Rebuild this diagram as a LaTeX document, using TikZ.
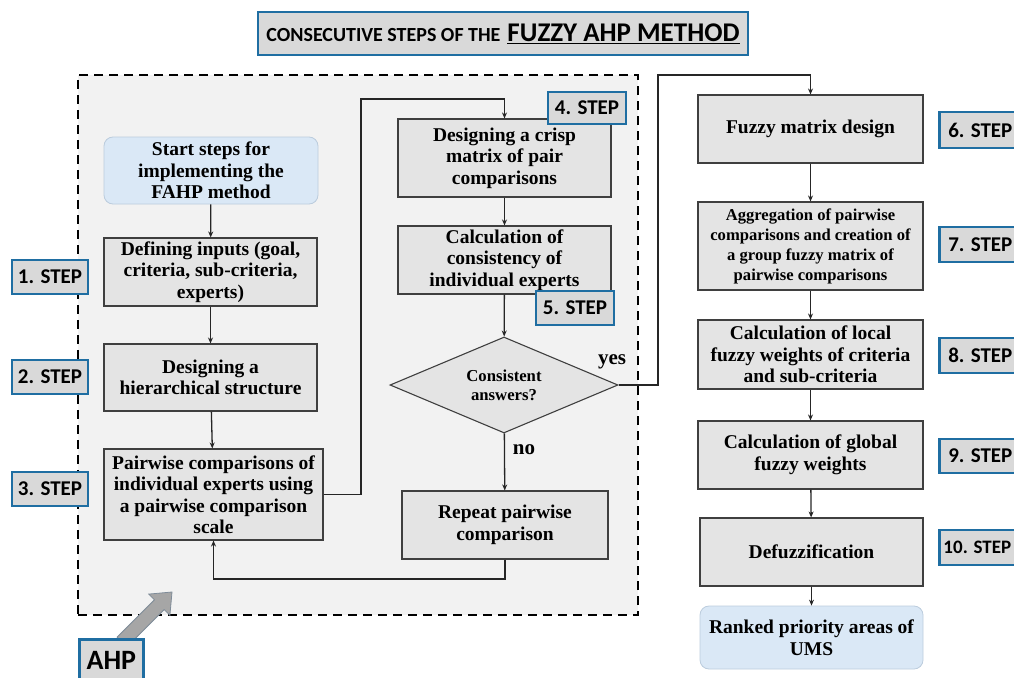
\documentclass[tikz,border=0pt]{standalone}
\usepackage{fontspec}
\setmainfont{Liberation Serif}
\newfontfamily\calfont{Carlito}
\usetikzlibrary{arrows.meta,shapes.geometric}
\definecolor{boxfill}{HTML}{E4E4E4}
\definecolor{boxline}{HTML}{3F3F3F}
\definecolor{stepblue}{HTML}{1F6EA2}
\definecolor{stepfill}{HTML}{D9D9D9}
\definecolor{startfill}{HTML}{DAE8F6}
\definecolor{startline}{HTML}{BBCCDD}
\definecolor{bgfill}{HTML}{F2F2F2}
\definecolor{arrowfill}{HTML}{A6A6A6}
\definecolor{arrowline}{HTML}{7F8C99}
\begin{document}
\begin{tikzpicture}[x=1pt,y=-1pt,
  box/.style={draw=boxline, fill=boxfill, line width=1.1pt, align=center, inner sep=0pt,
    font=\bfseries\fontsize{19.5}{21.5}\selectfont},
  startbox/.style={box, draw=startline, fill=startfill, rounded corners=9pt, line width=0.8pt},
  stepbox/.style={draw=stepblue, fill=stepfill, line width=2.6pt, inner sep=0pt,
    minimum width=76, minimum height=34, font=\calfont\bfseries\fontsize{21}{22}\selectfont},
  arr/.style={line width=1.3pt, draw=black!85, -{Stealth[length=6pt,width=5pt]}},
  lbl/.style={font=\bfseries\fontsize{21}{22}\selectfont, inner sep=0pt}
]
\useasboundingbox (0,0) rectangle (1014,677);

% title
\node[draw=stepblue, fill=stepfill, line width=2.6pt, minimum width=490, minimum height=43, inner sep=0pt]
  (title) at (503,33.5) {\calfont\bfseries{\fontsize{20}{22}\selectfont CONSECUTIVE STEPS OF THE}\hspace{7pt}{\fontsize{27}{28}\selectfont\underline{FUZZY AHP METHOD}}};

% dashed AHP region
\node[draw=black, fill=bgfill, dashed, dash pattern=on 9pt off 6pt, line width=2.2pt,
  minimum width=560, minimum height=540, inner sep=0pt] (ahpregion) at (358,345) {};

% left column
\node[startbox, minimum width=214, minimum height=67] (start) at (211,170.5)
  {Start steps for\\implementing the\\FAHP method};
\node[box, minimum width=213, minimum height=68] (n1) at (210.5,272)
  {Defining inputs (goal,\\criteria, sub-criteria,\\experts)};
\node[box, minimum width=213, minimum height=67] (n2) at (210.5,377.5)
  {Designing a\\hierarchical structure};
\node[box, minimum width=219, minimum height=91] (n3) at (213.5,494.5)
  {Pairwise comparisons of\\individual experts using\\a pairwise comparison\\scale};

% middle column
\node[box, minimum width=213, minimum height=78] (n4) at (504.5,158)
  {Designing a crisp\\matrix of pair\\comparisons};
\node[box, minimum width=213, minimum height=68] (n5) at (504.5,260)
  {Calculation of\\consistency of\\individual experts};
\node[box, shape=diamond, aspect=2.4, minimum width=228, minimum height=96,
  font=\bfseries\fontsize{16.7}{19}\selectfont] (dia) at (504,385)
  {Consistent\\answers?};
\node[box, minimum width=206, minimum height=68] (rep) at (505,525)
  {Repeat pairwise\\comparison};

% right column
\node[box, minimum width=225, minimum height=68] (m1) at (810.5,129) {Fuzzy matrix design};
\node[box, minimum width=225, minimum height=88, font=\bfseries\fontsize{16.6}{20}\selectfont] (m2) at (810.5,246)
  {Aggregation of pairwise\\comparisons and creation of\\a group fuzzy matrix of\\pairwise comparisons};
\node[box, minimum width=225, minimum height=69] (m3) at (810.5,354.5)
  {Calculation of local\\fuzzy weights of criteria\\and sub-criteria};
\node[box, minimum width=225, minimum height=68] (m4) at (810.5,455)
  {Calculation of global\\fuzzy weights};
\node[box, minimum width=223, minimum height=68] (m5) at (811.5,552) {Defuzzification};
\node[startbox, minimum width=223, minimum height=63] (m6) at (811.5,637.5)
  {Ranked priority areas of\\UMS};

% step labels
\node[stepbox] (s1) at (50,277) {1. STEP};
\node[stepbox] (s2) at (50,377) {2. STEP};
\node[stepbox] (s3) at (50,489) {3. STEP};
\node[stepbox, minimum width=78, minimum height=32] (s4) at (587,108) {4. STEP};
\node[stepbox, minimum width=78] (s5) at (575,308) {5. STEP};
\node[stepbox, minimum width=82, minimum height=36, anchor=west] (s6) at (938,130) {6. STEP};
\node[stepbox, minimum width=82, minimum height=35, anchor=west] (s7) at (938,244.5) {7. STEP};
\node[stepbox, minimum width=82, minimum height=35, anchor=west] (s8) at (938,355.5) {8. STEP};
\node[stepbox, minimum width=82, minimum height=34, anchor=west] (s9) at (938,456) {9. STEP};
\node[stepbox, minimum width=82, minimum height=35, anchor=west,
  font=\calfont\bfseries\fontsize{19}{20}\selectfont] (s10) at (938,547.5) {\hspace{-6pt}10. STEP};

% coordinates for connector bends
\coordinate (c1) at (361,99);
\coordinate (c2) at (505,579);
\coordinate (c3) at (658,75);

% connectors
\draw[arr] (start) -- (n1);
\draw[arr] (n1) -- (n2);
\draw[arr] (n2) -- (n3);
\draw[arr] (n3.east) -| (c1) -| (n4.north);
\draw[arr] (n4) -- (n5);
\draw[arr] (n5) -- (dia);
\draw[arr] (dia) -- (rep);
\draw[arr] (rep.south) -- (c2) -| (n3.south);
\draw[arr] (dia.east) -| (c3) -| (m1.north);
\draw[arr] (m1) -- (m2);
\draw[arr] (m2) -- (m3);
\draw[arr] (m3) -- (m4);
\draw[arr] (m4) -- (m5);
\draw[arr] (m5) -- (m6);

\node[lbl] (yes) at (612,362) {yes};
\node[lbl] (no) at (524,450) {no};

% AHP block arrow and label
\filldraw[fill=arrowfill, draw=arrowline, line width=0.8pt]
  (126.9,646.9) -- (164.2,609.6) -- (169.9,615.3) -- (172,592) -- (148.7,594.1)
  -- (154.4,599.8) -- (117.1,637.1) -- cycle;
\node[stepbox, minimum width=64, minimum height=42, anchor=north west,
  font=\calfont\bfseries\fontsize{28}{30}\selectfont] (ahp) at (78,638) {AHP};
\end{tikzpicture}
\end{document}
